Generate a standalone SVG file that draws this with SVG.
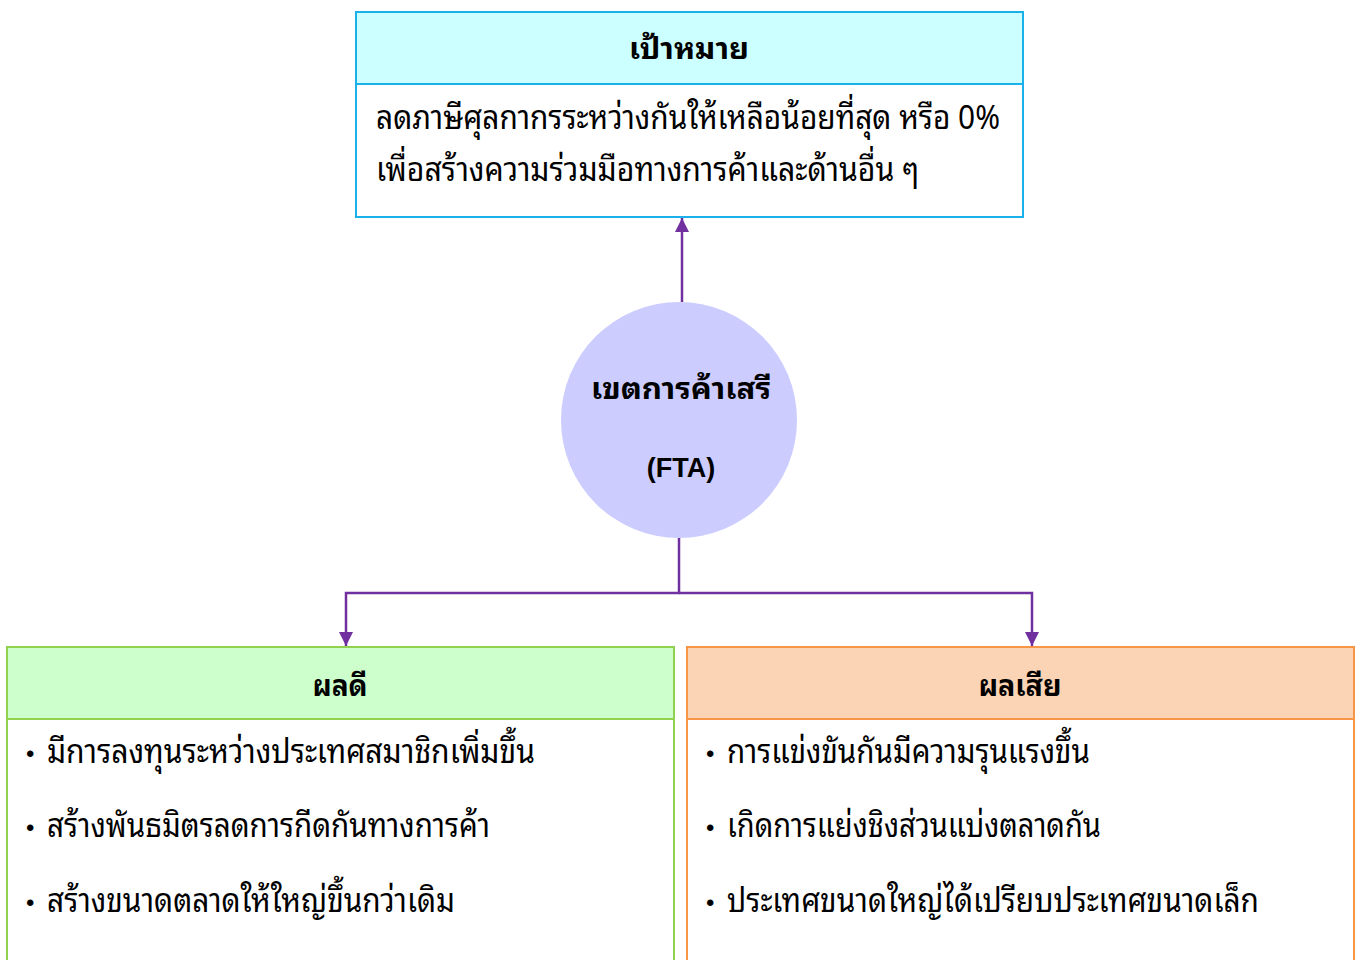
<svg xmlns="http://www.w3.org/2000/svg" width="1359" height="960" viewBox="0 0 1359 960">
<defs>
<style>
text{font-family:"Noto Sans Thai Looped","Noto Serif Thai","Liberation Sans",sans-serif;fill:#000;}
.t{font-size:30px;font-weight:bold;text-anchor:middle;}
.f{font-family:"Liberation Sans",Arial,sans-serif;font-size:27px;font-weight:bold;text-anchor:middle;}
.b{font-size:33px;}
.d{font-family:"Liberation Sans",Arial,sans-serif;font-size:24px;}
.conn{stroke:#7030a0;stroke-width:2.5;fill:none;}
</style>
<marker id="ah" viewBox="0 0 14 14" refX="14" refY="7" markerWidth="14" markerHeight="14" markerUnits="userSpaceOnUse" orient="auto">
<path d="M0,0 L14,7 L0,14 z" fill="#7030a0"/>
</marker>
</defs>
<rect width="1359" height="960" fill="#fff"/>
<g id="connectors">
<path class="conn" d="M682,302 V218" marker-end="url(#ah)"/>
<path class="conn" d="M679,538 V593 H346 V646" marker-end="url(#ah)"/>
<path class="conn" d="M679,593 H1032 V646" marker-end="url(#ah)"/>
</g>
<g id="goal">
<rect x="356" y="12" width="667" height="205" fill="#fff" stroke="#1ab0ea" stroke-width="2"/>
<rect x="356" y="12" width="667" height="72" fill="#ccffff" stroke="#1ab0ea" stroke-width="2"/>
<text class="t" x="689" y="59" textLength="120" lengthAdjust="spacingAndGlyphs">เป้าหมาย</text>
<text class="b" x="376" y="129" textLength="624" lengthAdjust="spacingAndGlyphs">ลดภาษีศุลกากรระหว่างกันให้เหลือน้อยที่สุด หรือ 0%</text>
<text class="b" x="376" y="181" textLength="543" lengthAdjust="spacingAndGlyphs">เพื่อสร้างความร่วมมือทางการค้าและด้านอื่น ๆ</text>
</g>
<g id="fta">
<circle cx="679" cy="420" r="118" fill="#ccccff"/>
<text class="t" x="681" y="399" textLength="180" lengthAdjust="spacingAndGlyphs">เขตการค้าเสรี</text>
<text class="f" x="681" y="477">(FTA)</text>
</g>
<g id="pros">
<rect x="7" y="647" width="667" height="320" fill="#fff" stroke="#92d050" stroke-width="2"/>
<rect x="7" y="647" width="667" height="72" fill="#ccffcc" stroke="#92d050" stroke-width="2"/>
<text class="t" x="340" y="696" textLength="55" lengthAdjust="spacingAndGlyphs">ผลดี</text>
<text class="d" x="26" y="762">•</text>
<text class="b" x="47" y="763" textLength="488" lengthAdjust="spacingAndGlyphs">มีการลงทุนระหว่างประเทศสมาชิกเพิ่มขึ้น</text>
<text class="d" x="26" y="836">•</text>
<text class="b" x="47" y="837" textLength="443" lengthAdjust="spacingAndGlyphs">สร้างพันธมิตรลดการกีดกันทางการค้า</text>
<text class="d" x="26" y="911">•</text>
<text class="b" x="47" y="912" textLength="408" lengthAdjust="spacingAndGlyphs">สร้างขนาดตลาดให้ใหญ่ขึ้นกว่าเดิม</text>
</g>
<g id="cons">
<rect x="687" y="647" width="667" height="320" fill="#fff" stroke="#f79646" stroke-width="2"/>
<rect x="687" y="647" width="667" height="72" fill="#fad4b4" stroke="#f79646" stroke-width="2"/>
<text class="t" x="1020" y="696" textLength="83" lengthAdjust="spacingAndGlyphs">ผลเสีย</text>
<text class="d" x="706" y="762">•</text>
<text class="b" x="727" y="763" textLength="363" lengthAdjust="spacingAndGlyphs">การแข่งขันกันมีความรุนแรงขึ้น</text>
<text class="d" x="706" y="836">•</text>
<text class="b" x="727" y="837" textLength="374" lengthAdjust="spacingAndGlyphs">เกิดการแย่งชิงส่วนแบ่งตลาดกัน</text>
<text class="d" x="706" y="911">•</text>
<text class="b" x="727" y="912" textLength="532" lengthAdjust="spacingAndGlyphs">ประเทศขนาดใหญ่ได้เปรียบประเทศขนาดเล็ก</text>
</g>
</svg>
